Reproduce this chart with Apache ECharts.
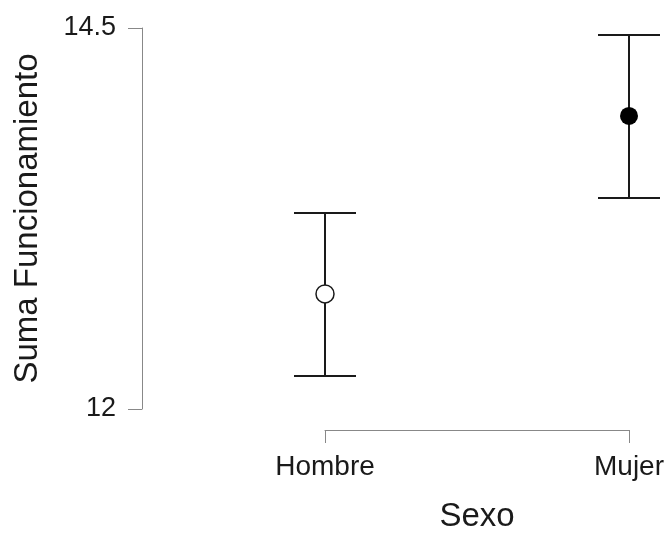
<!DOCTYPE html>
<html><head><meta charset="utf-8">
<script src="https://cdn.jsdelivr.net/npm/echarts@6/dist/echarts.min.js"></script>
<style>html,body{margin:0;padding:0;background:#fff}#c{width:668px;height:533px}</style>
</head><body><div id="c"></div>
<script>
const categories = ['Hombre', 'Mujer'];
const means = [12.755, 13.923];
const lower = [12.217, 13.385];
const upper = [13.286, 14.454];
const yTicks = [12, 14.5];
const yTickLabels = ['12', '14.5'];

const chart = echarts.init(document.getElementById('c'), null, {renderer: 'canvas'});
const font = 'Liberation Sans, Arial, sans-serif';
const ink = '#1a1a1a';

chart.setOption({
  animation: false,
  grid: {left: 325, right: 39, top: 28, bottom: 124, containLabel: false, outerBoundsMode: 'none'},
  xAxis: {
    type: 'category', data: categories, boundaryGap: false,
    offset: 21,
    name: 'Sexo', nameLocation: 'middle', nameGap: 70,
    nameTextStyle: {fontFamily: font, fontSize: 33, color: ink},
    axisLine: {show: true, lineStyle: {color: '#888', width: 1}},
    axisTick: {show: true, length: 13, inside: false, alignWithLabel: true, lineStyle: {color: '#888'}},
    axisLabel: {fontFamily: font, fontSize: 28, color: ink, margin: 23},
    splitLine: {show: false}
  },
  yAxis: {
    type: 'value', min: 12, max: 14.5,
    offset: 183,
    name: 'Suma Funcionamiento', nameLocation: 'middle', nameGap: 98, nameRotate: 90,
    nameTextStyle: {fontFamily: font, fontSize: 33, color: ink},
    axisLine: {show: true, lineStyle: {color: '#888', width: 1}},
    axisTick: {show: true, length: 14, customValues: yTicks, lineStyle: {color: '#888'}},
    axisLabel: {fontFamily: font, fontSize: 27, color: ink, margin: 26,
      customValues: yTicks,
      formatter: v => yTickLabels[yTicks.indexOf(v)] ?? ''},
    splitLine: {show: false}
  },
  series: [
    {
      type: 'custom',
      data: categories.map((c, i) => [i, lower[i], upper[i]]),
      renderItem: function (params, api) {
        const x = api.value(0);
        const lo = api.coord([x, api.value(1)]);
        const hi = api.coord([x, api.value(2)]);
        const half = 31;
        const style = {stroke: ink, lineWidth: 2};
        return {type: 'group', children: [
          {type: 'line', shape: {x1: lo[0], y1: lo[1], x2: hi[0], y2: hi[1]}, style},
          {type: 'line', shape: {x1: lo[0] - half, y1: lo[1], x2: lo[0] + half, y2: lo[1]}, style},
          {type: 'line', shape: {x1: hi[0] - half, y1: hi[1], x2: hi[0] + half, y2: hi[1]}, style}
        ]};
      },
      z: 2
    },
    {
      type: 'scatter', symbol: 'circle', symbolSize: 18,
      data: [
        {value: [0, means[0]], itemStyle: {color: '#fff', borderColor: ink, borderWidth: 1.5, opacity: 1}},
        {value: [1, means[1]], itemStyle: {color: '#000', borderColor: '#000', borderWidth: 0, opacity: 1}}
      ],
      z: 3
    }
  ]
});
</script></body></html>
